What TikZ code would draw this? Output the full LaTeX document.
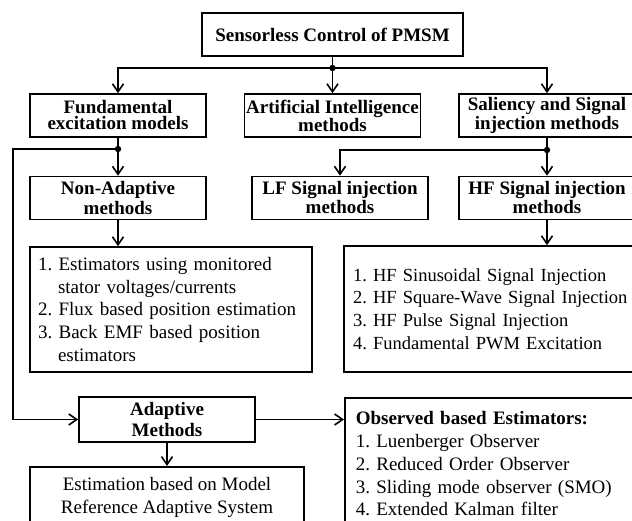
\documentclass[tikz,border=0pt]{standalone}
\usepackage{fontspec}
\setmainfont{Liberation Serif}
\usetikzlibrary{arrows.meta}

\tikzset{
  box/.style={draw, line width=1.6pt, minimum width=176pt, minimum height=43pt,
    inner sep=0pt, align=center, font=\bfseries\fontsize{19}{19}\selectfont},
  listbox/.style={draw, line width=1.6pt, align=left, font=\fontsize{19}{22.7}\selectfont},
  arr/.style={-{Straight Barb[length=8pt,width=11pt,line width=1.6pt]}, line width=1.6pt},
  wire/.style={line width=1.6pt}
}

\begin{document}
\frenchspacing
\begin{tikzpicture}[x=1pt, y=-1pt]
\useasboundingbox (0,0) rectangle (632,521);
\clip (0,0) rectangle (632,521);
\fill[white] (0,0) rectangle (632,521);

% top
\node[box, minimum width=261pt] (top) at (332.5,34.5) {Sensorless Control of PMSM};

% second row
\node[box, font=\bfseries\fontsize{19}{16}\selectfont] (fund) at (118,115.5) {Fundamental\\excitation models};
\node[box, font=\bfseries\fontsize{19}{18}\selectfont] (ai) at (332.5,115.5) {Artificial Intelligence\\methods};
\node[box, font=\bfseries\fontsize{19}{16.5}\selectfont] (sal) at (547,115.5) {Saliency and Signal\\injection methods};

% third row
\node[box, font=\bfseries\fontsize{19}{20}\selectfont] (nonad) at (118,198) {Non-Adaptive\\methods};
\node[box] (lf) at (340,198) {LF Signal injection\\methods};
\node[box] (hf) at (547,198) {HF Signal injection\\methods};

% lists
\node[listbox, minimum width=274pt, minimum height=125pt, text width=266pt, inner xsep=8pt, inner ysep=0pt]
  (list1) at (171,309.5) {1. Estimators using monitored\\\hspace*{20pt}stator voltages/currents\\2. Flux based position estimation\\3. Back EMF based position\\\hspace*{20pt}estimators};
\node[listbox, minimum width=296pt, minimum height=126pt, text width=290pt, inner xsep=9pt, inner ysep=0pt,
  font=\fontsize{18.5}{22.7}\selectfont]
  (hflist) at (498,309) {1. HF Sinusoidal Signal Injection\\2. HF Square-Wave Signal Injection\\3. HF Pulse Signal Injection\\4. Fundamental PWM Excitation};

% adaptive part
\node[box, minimum height=45pt, font=\bfseries\fontsize{19}{21}\selectfont] (adapt) at (167,419.5) {Adaptive\\Methods};
\node[listbox, anchor=north west, text width=280pt, inner xsep=11pt, inner ysep=14pt]
  (obs) at (344,397) {\textbf{Observed based Estimators:}\\1. Luenberger Observer\\2. Reduced Order Observer\\3. Sliding mode observer (SMO)\\4. Extended Kalman filter};
\node[listbox, anchor=north, minimum width=274pt, align=center, inner xsep=0pt, inner ysep=11pt, minimum height=80pt]
  (mras) at (167,466) {Estimation based on Model\\Reference Adaptive System\\\strut};

% junctions
\coordinate (j0) at (332.5,68);
\coordinate (j1) at (118,149);
\coordinate (j2) at (547,150);
\coordinate (bend) at (13,149);

% connectors
\draw[wire] (top) -- (j0);
\draw[arr] (j0) -| (fund);
\draw[arr] (j0) -- (ai);
\draw[arr] (j0) -| (sal);

\draw[wire] (fund) -- (j1);
\draw[arr] (j1) -- (nonad);
\draw[arr] (j1) -- (bend) |- (adapt);

\draw[wire] (sal) -- (j2);
\draw[arr] (j2) -- (hf);
\draw[arr] (j2) -| (lf);

\draw[arr] (nonad.south) -- (nonad.south |- list1.north);
\draw[arr] (hf.south) -- (hf.south |- hflist.north);
\draw[arr] (adapt.east) -- (adapt.east -| obs.west);
\draw[arr] (adapt) -- (mras);

% dots
\foreach \j in {j0,j1,j2}
  \fill (\j) circle (3.2pt);

\end{tikzpicture}
\end{document}
